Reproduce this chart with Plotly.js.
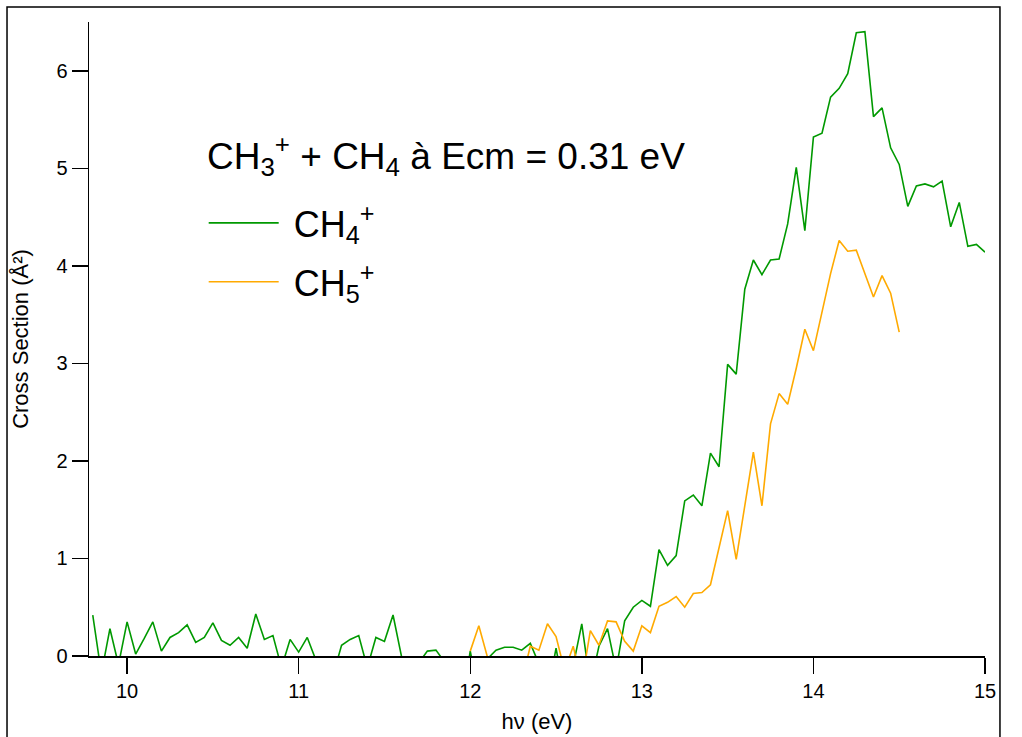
<!DOCTYPE html>
<html>
<head>
<meta charset="utf-8">
<script src="https://cdn.plot.ly/plotly-3.0.1.min.js"></script>
<style>
html,body{margin:0;padding:0;background:#ffffff;}
#chart{width:1022px;height:737px;}
</style>
</head>
<body>
<div id="chart"></div>
<script>
// Photon energy (eV) for the CH4+ channel
const energyCH4 = [
  9.80, 9.85, 9.90, 9.95, 10.00, 10.05, 10.10, 10.15, 10.20, 10.25,
  10.30, 10.35, 10.40, 10.45, 10.50, 10.55, 10.60, 10.65, 10.70, 10.75,
  10.80, 10.85, 10.90, 10.95, 11.00, 11.05, 11.10, 11.15, 11.20, 11.25,
  11.30, 11.35, 11.40, 11.45, 11.50, 11.55, 11.60, 11.65, 11.70, 11.75,
  11.80, 11.85, 11.90, 11.95, 12.00, 12.05, 12.10, 12.15, 12.20, 12.25,
  12.30, 12.35, 12.40, 12.45, 12.50, 12.55, 12.60, 12.65, 12.70, 12.75,
  12.80, 12.85, 12.90, 12.95, 13.00, 13.05, 13.10, 13.15, 13.20, 13.25,
  13.30, 13.35, 13.40, 13.45, 13.50, 13.55, 13.60, 13.65, 13.70, 13.75,
  13.80, 13.85, 13.90, 13.95, 14.00, 14.05, 14.10, 14.15, 14.20, 14.25,
  14.30, 14.35, 14.40, 14.45, 14.50, 14.55, 14.60, 14.65, 14.70, 14.75,
  14.80, 14.85, 14.90, 14.95, 15.00
];
// Cross section (Å²) for CH4+
const sectionCH4 = [
  0.42, -0.18, 0.28, -0.09, 0.35, 0.02, 0.18, 0.35, 0.05, 0.19,
  0.24, 0.32, 0.14, 0.19, 0.34, 0.16, 0.11, 0.19, 0.08, 0.43,
  0.17, 0.21, -0.12, 0.17, 0.04, 0.19, -0.04, -0.30, -0.20, 0.11,
  0.17, 0.21, -0.12, 0.19, 0.15, 0.42, -0.01, -0.30, -0.07, 0.05,
  0.06, -0.06, -0.25, -0.50, 0.05, -0.40, -0.03, 0.06, 0.09, 0.09,
  0.06, 0.13, -0.08, -0.40, 0.08, -0.40, -0.10, 0.33, -0.30, 0.10,
  0.28, -0.14, 0.36, 0.50, 0.57, 0.51, 1.09, 0.93, 1.03, 1.59,
  1.65, 1.54, 2.08, 1.94, 2.99, 2.89, 3.76, 4.06, 3.91, 4.06,
  4.07, 4.43, 5.01, 4.36, 5.32, 5.36, 5.73, 5.82, 5.97, 6.39,
  6.40, 5.53, 5.62, 5.21, 5.04, 4.61, 4.82, 4.84, 4.81, 4.87,
  4.40, 4.65, 4.20, 4.22, 4.14
];
// Photon energy (eV) for the CH5+ channel
const energyCH5 = [
  12.00, 12.05, 12.10, 12.15, 12.20, 12.25, 12.30, 12.35, 12.40, 12.45,
  12.50, 12.55, 12.60, 12.65, 12.70, 12.75, 12.80, 12.85, 12.90, 12.95,
  13.00, 13.05, 13.10, 13.15, 13.20, 13.25, 13.30, 13.35, 13.40, 13.45,
  13.50, 13.55, 13.60, 13.65, 13.70, 13.75, 13.80, 13.85, 13.90, 13.95,
  14.00, 14.05, 14.10, 14.15, 14.20, 14.25, 14.30, 14.35, 14.40, 14.45,
  14.50
];
// Cross section (Å²) for CH5+
const sectionCH5 = [
  0.05, 0.31, -0.01, -0.30, -0.30, -0.30, -0.26, 0.10, 0.06, 0.33,
  0.20, -0.15, 0.10, -0.27, 0.26, 0.11, 0.36, 0.35, 0.15, 0.05,
  0.31, 0.24, 0.51, 0.55, 0.61, 0.50, 0.64, 0.65, 0.73, 1.11,
  1.49, 0.99, 1.56, 2.09, 1.54, 2.38, 2.69, 2.58, 2.95, 3.35,
  3.13, 3.53, 3.92, 4.26, 4.15, 4.16, 3.92, 3.68, 3.90, 3.72,
  3.32
];

const xTickValues = [10, 11, 12, 13, 14, 15];
const yTickValues = [0, 1, 2, 3, 4, 5, 6];
const seriesNames = ['\u00a0CH<sub>4</sub><sup>+</sup>', '\u00a0CH<sub>5</sub><sup>+</sup>'];
const headerText = 'CH<sub>3</sub><sup>+</sup> + CH<sub>4</sub> à Ecm = 0.31 eV';
const xTitle = 'hν (eV)';
const yTitle = 'Cross Section (Å²)';

const FONT = 'Liberation Sans, Arial, Helvetica, sans-serif';

const traces = [
  {
    x: energyCH4, y: sectionCH4, type: 'scatter', mode: 'lines',
    name: seriesNames[0], legendgroup: 'g1',
    line: {color: 'rgb(0,153,0)', width: 1.6}
  },
  {
    x: energyCH5, y: sectionCH5, type: 'scatter', mode: 'lines',
    name: seriesNames[1], legendgroup: 'g2',
    line: {color: 'rgb(255,170,0)', width: 1.6}
  }
];

const layout = {
  width: 1022, height: 737,
  margin: {l: 89, r: 37, t: 22, b: 81, pad: 0},
  paper_bgcolor: '#ffffff', plot_bgcolor: '#ffffff',
  font: {family: FONT, color: '#000000', size: 20},
  showlegend: true,
  legend: {
    x: 0.128, y: 0.7303, xanchor: 'left', yanchor: 'top',
    bgcolor: 'rgba(0,0,0,0)', borderwidth: 0,
    font: {family: FONT, size: 36, color: '#000'},
    itemwidth: 70, tracegroupgap: 9, traceorder: 'grouped'
  },
  annotations: [
    {text: headerText, xref: 'paper', yref: 'paper', x: 0.1295, y: 0.79,
     xanchor: 'left', yanchor: 'middle', showarrow: false,
     font: {family: FONT, size: 37, color: '#000'}}
  ],
  xaxis: {
    range: [9.778, 15.0], tickvals: xTickValues, ticktext: xTickValues.map(String),
    ticks: 'outside', ticklen: 16, tickwidth: 1.5, tickcolor: '#000',
    showline: true, linecolor: '#000', linewidth: 1.5,
    showgrid: false, zeroline: false, fixedrange: true,
    tickfont: {family: FONT, size: 20, color: '#000'},
    title: {text: xTitle, font: {family: FONT, size: 22, color: '#000'}, standoff: 13}
  },
  yaxis: {
    range: [0, 6.5], tickvals: yTickValues, ticktext: yTickValues.map(String),
    ticks: 'outside', ticklen: 16, tickwidth: 1.5, tickcolor: '#000',
    showline: true, linecolor: '#000', linewidth: 1.5,
    showgrid: false, zeroline: false, fixedrange: true,
    tickfont: {family: FONT, size: 20, color: '#000'},
    title: {text: yTitle, font: {family: FONT, size: 22, color: '#000'}, standoff: 21}
  },
  shapes: [
    {type: 'rect', xref: 'paper', yref: 'paper',
     x0: -0.0915, x1: 1.0167, y0: -0.3, y1: 1.0237,
     line: {color: '#000', width: 1.5}, fillcolor: 'rgba(0,0,0,0)', layer: 'below'}
  ]
};

Plotly.newPlot('chart', traces, layout, {displayModeBar: false, staticPlot: true});
</script>
</body>
</html>
